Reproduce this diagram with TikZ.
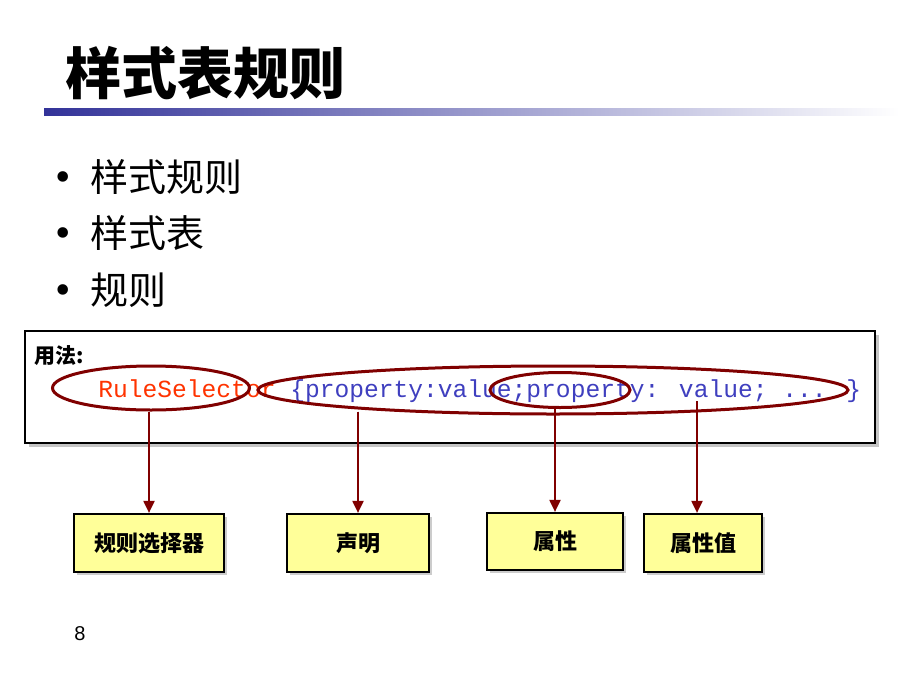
\documentclass[tikz,border=0pt]{standalone}
\usepackage{fontspec}
\setmainfont{Liberation Serif}
\newfontfamily\cjk{Noto Sans CJK SC}
\newfontfamily\codefont{Liberation Mono}
\newfontfamily\numfont{Liberation Sans}
\usetikzlibrary{arrows.meta,shapes.geometric,shadows,positioning}

\definecolor{ringred}{HTML}{800000}
\definecolor{selred}{HTML}{FF3300}
\definecolor{codeblue}{HTML}{3F3FBF}
\definecolor{boxyellow}{HTML}{FFFF99}
\definecolor{navy}{HTML}{333399}

\begin{document}
\begin{tikzpicture}[x=1pt,y=-1pt,>={Triangle[length=12pt,width=11pt]},
  thick]
  \tikzstyle{ring}=[ellipse,draw=ringred,line width=3pt,inner sep=0pt]
  \tikzstyle{term}=[draw=black,line width=2.2pt,fill=boxyellow,
    minimum height=58pt,font=\cjk\fontsize{22}{26}\selectfont\bfseries,
    drop shadow={shadow xshift=3pt,shadow yshift=-3pt,fill=black!40}]
  \tikzstyle{pointer}=[->,draw=ringred,line width=2pt,fill=ringred]
  \tikzstyle{item}=[anchor=west,inner sep=0pt,
    font=\cjk\fontsize{38}{44}\selectfont]

  \useasboundingbox (0,0) rectangle (900,675);

  % title
  \node[font=\cjk\fontsize{56}{60}\selectfont\bfseries,inner sep=0pt] (title)
    at (205,73) {样式表规则};
  \shade[left color=navy,right color=white] (44,108) rectangle (900,115);

  % bullets
  \foreach \y/\t in {177/样式规则,233/样式表,290/规则}
    \node[item] at (55,\y) {\makebox[35pt][l]{\rmfamily\fontsize{44}{44}\selectfont\textbullet}\t};

  % usage box
  \node[draw=black,line width=2.2pt,fill=white,minimum width=850pt,
    minimum height=112pt,
    drop shadow={shadow xshift=4pt,shadow yshift=-4pt,fill=black!45}]
    (usage) at (450,387) {};
  \node[anchor=west,inner sep=0pt,font=\cjk\fontsize{21}{24}\selectfont\bfseries]
    (howto) at (34,356) {用法:};
  \node[anchor=base west,inner sep=0pt,font=\codefont\fontsize{24.6}{30}\selectfont]
    (code) at (98,397) {\textcolor{selred}{RuleSelector} \textcolor{codeblue}{\{property:value;property: value; ... \}}};

  % rings
  \node[ring,minimum width=197pt,minimum height=44pt] (sel) at (151,388) {};
  \node[ring,minimum width=590pt,minimum height=48pt] (decl) at (553,390) {};
  \node[ring,minimum width=140pt,minimum height=35pt] (prop) at (560,390) {};
  \coordinate (val) at (697,401);

  % terms
  \node[term,minimum width=150pt] (rsel) at (149,543) {规则选择器};
  \node[term,minimum width=142pt] (stmt) at (358,543) {声明};
  \node[term,minimum width=136pt,minimum height=57pt] (attr) at (555,541.5) {属性};
  \node[term,minimum width=118pt] (aval) at (703,543) {属性值};

  \draw[pointer] (rsel.north |- sel.south) -- (rsel.north);
  \draw[pointer] ([yshift=4pt]stmt.north |- decl.south) -- (stmt.north);
  \draw[pointer] (attr.north |- prop.south) -- (attr.north);
  \draw[pointer] (val) -- (val |- aval.north);

  \node[font=\numfont\fontsize{20}{24}\selectfont] (page) at (80,634) {8};
\end{tikzpicture}
\end{document}
